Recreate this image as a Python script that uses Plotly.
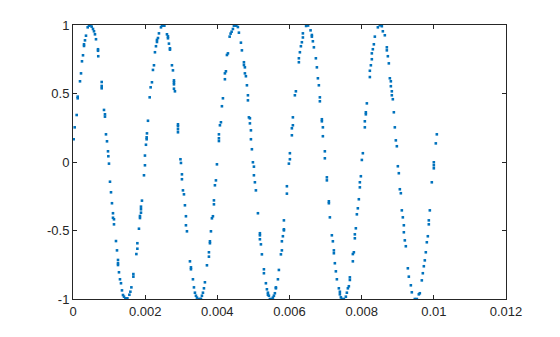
import plotly.graph_objects as go

# sample times in microseconds
t_us = [19, 47, 102, 130, 130, 194, 222, 249, 277, 305, 305, 332, 360, 407, 443, 482, 518, 554, 582, 609,
        637, 693, 693, 700, 795, 795, 795, 859, 886, 886, 914, 942, 970, 980, 997, 1025, 1053, 1080, 1108, 1108,
        1136, 1136, 1191, 1219, 1247, 1247, 1247, 1274, 1302, 1330, 1357, 1385, 1413, 1451, 1479, 1507, 1562, 1590, 1618, 1673,
        1673, 1756, 1784, 1784, 1828, 1856, 1856, 1884, 1884, 1884, 1911, 1967, 1994, 1994, 2022, 2041, 2041, 2050, 2078, 2125,
        2152, 2188, 2216, 2244, 2271, 2299, 2327, 2327, 2355, 2382, 2438, 2465, 2504, 2532, 2604, 2632, 2632, 2659, 2687, 2687,
        2742, 2770, 2798, 2798, 2798, 2798, 2825, 2909, 2909, 2909, 2909, 2978, 2992, 3019, 3019, 3047, 3075, 3102, 3130, 3130,
        3158, 3241, 3269, 3269, 3324, 3352, 3379, 3407, 3435, 3490, 3546, 3573, 3601, 3629, 3656, 3712, 3767, 3767, 3795, 3795,
        3823, 3850, 3878, 3906, 3906, 3933, 3961, 3989, 4044, 4044, 4044, 4072, 4100, 4127, 4155, 4210, 4210, 4238, 4266, 4294,
        4341, 4368, 4396, 4432, 4460, 4487, 4526, 4570, 4598, 4654, 4681, 4737, 4737, 4764, 4764, 4792, 4820, 4848, 4848, 4875,
        4903, 4903, 4931, 4931, 4958, 4986, 5014, 5014, 5041, 5069, 5125, 5180, 5180, 5180, 5208, 5235, 5291, 5291, 5346, 5374,
        5402, 5402, 5429, 5457, 5512, 5540, 5568, 5595, 5623, 5623, 5679, 5706, 5762, 5789, 5789, 5817, 5845, 5845, 5845, 5928,
        5928, 5983, 6011, 6011, 6066, 6066, 6094, 6094, 6149, 6177, 6260, 6260, 6288, 6316, 6343, 6371, 6371, 6460, 6515, 6584,
        6620, 6620, 6648, 6676, 6731, 6759, 6787, 6814, 6842, 6842, 6897, 6897, 6925, 6925, 6980, 6980, 7036, 7036, 7091, 7091,
        7119, 7174, 7202, 7230, 7230, 7257, 7285, 7313, 7368, 7396, 7396, 7424, 7451, 7507, 7562, 7590, 7618, 7645, 7673, 7673,
        7756, 7756, 7784, 7811, 7811, 7839, 7867, 7894, 7922, 7950, 7950, 7978, 8005, 8033, 8088, 8088, 8116, 8116, 8144, 8227,
        8227, 8255, 8282, 8282, 8310, 8338, 8365, 8449, 8504, 8559, 8587, 8642, 8698, 8698, 8726, 8753, 8781, 8809, 8809, 8836,
        8836, 8864, 8892, 8919, 8947, 8975, 9003, 9030, 9058, 9086, 9113, 9141, 9169, 9169, 9196, 9224, 9280, 9307, 9363, 9390,
        9473, 9529, 9584, 9612, 9667, 9695, 9723, 9750, 9778, 9806, 9834, 9861, 9861, 9889, 9944, 10000, 10000, 10000, 10055, 10083]

values = [0.166, 0.253, 0.343, 0.465, 0.477, 0.589, 0.647, 0.735, 0.779, 0.847, 0.859, 0.888, 0.922, 0.983, 0.995, 0.998, 0.988, 0.971, 0.954, 0.932,
          0.896, 0.823, 0.812, 0.772, 0.584, 0.555, 0.538, 0.380, 0.348, 0.331, 0.202, 0.151, 0.078, 0.042, -0.012, -0.144, -0.221, -0.301, -0.374, -0.407,
          -0.418, -0.455, -0.577, -0.645, -0.715, -0.739, -0.752, -0.805, -0.856, -0.885, -0.937, -0.971, -0.983, -0.995, -1.0, -0.995, -0.969, -0.947, -0.915, -0.837,
          -0.818, -0.672, -0.633, -0.593, -0.487, -0.409, -0.394, -0.370, -0.345, -0.326, -0.282, -0.097, -0.024, 0.047, 0.126, 0.166, 0.180, 0.209, 0.301, 0.472,
          0.545, 0.582, 0.672, 0.706, 0.801, 0.845, 0.876, 0.891, 0.905, 0.939, 0.983, 0.995, 0.998, 0.995, 0.932, 0.917, 0.903, 0.864, 0.830, 0.820,
          0.706, 0.669, 0.596, 0.582, 0.567, 0.535, 0.516, 0.275, 0.261, 0.239, 0.217, 0.020, -0.007, -0.090, -0.126, -0.207, -0.236, -0.316, -0.396, -0.462,
          -0.506, -0.725, -0.769, -0.783, -0.856, -0.915, -0.954, -0.976, -0.990, -1.0, -0.998, -0.976, -0.954, -0.922, -0.878, -0.754, -0.691, -0.659, -0.593, -0.579,
          -0.506, -0.411, -0.396, -0.309, -0.280, -0.170, -0.134, -0.017, 0.153, 0.173, 0.202, 0.268, 0.290, 0.407, 0.465, 0.604, 0.647, 0.662, 0.781, 0.793,
          0.915, 0.937, 0.951, 0.971, 0.995, 0.995, 0.995, 0.985, 0.944, 0.871, 0.815, 0.728, 0.708, 0.691, 0.647, 0.626, 0.560, 0.487, 0.450, 0.326,
          0.319, 0.282, 0.231, 0.166, 0.093, -0.002, -0.034, -0.097, -0.148, -0.207, -0.374, -0.520, -0.535, -0.564, -0.601, -0.674, -0.783, -0.812, -0.885, -0.929,
          -0.954, -0.969, -0.976, -1.0, -1.0, -0.990, -0.976, -0.958, -0.915, -0.922, -0.856, -0.788, -0.674, -0.645, -0.579, -0.542, -0.499, -0.491, -0.426, -0.231,
          -0.177, -0.012, 0.020, 0.064, 0.195, 0.246, 0.268, 0.326, 0.487, 0.516, 0.728, 0.757, 0.801, 0.845, 0.874, 0.909, 0.939, 0.993, 0.996, 0.961,
          0.927, 0.915, 0.881, 0.837, 0.757, 0.691, 0.611, 0.560, 0.472, 0.443, 0.312, 0.297, 0.253, 0.188, 0.078, 0.027, -0.112, -0.134, -0.287, -0.301,
          -0.404, -0.535, -0.579, -0.645, -0.666, -0.739, -0.798, -0.856, -0.922, -0.947, -0.966, -0.988, -1.0, -1.0, -0.983, -0.954, -0.922, -0.907, -0.861, -0.842,
          -0.725, -0.672, -0.659, -0.557, -0.528, -0.484, -0.382, -0.338, -0.272, -0.185, -0.148, -0.104, 0.015, 0.064, 0.253, 0.297, 0.348, 0.363, 0.428, 0.620,
          0.666, 0.706, 0.750, 0.793, 0.823, 0.859, 0.915, 0.983, 0.998, 0.991, 0.954, 0.925, 0.837, 0.815, 0.772, 0.720, 0.611, 0.589, 0.553, 0.516,
          0.487, 0.458, 0.363, 0.253, 0.158, 0.115, -0.031, -0.082, -0.199, -0.228, -0.353, -0.404, -0.462, -0.513, -0.572, -0.615, -0.776, -0.837, -0.900, -0.951,
          -1.0, -1.0, -0.966, -0.958, -0.864, -0.812, -0.761, -0.718, -0.659, -0.586, -0.542, -0.455, -0.426, -0.353, -0.148, -0.002, -0.024, -0.046, 0.136, 0.202]

x_ticks = [0, 0.002, 0.004, 0.006, 0.008, 0.01, 0.012]
x_labels = ["0", "0.002", "0.004", "0.006", "0.008", "0.01", "0.012"]
y_ticks = [-1, -0.5, 0, 0.5, 1]
y_labels = ["-1", "-0.5", "0", "0.5", "1"]

t = [v * 1e-6 for v in t_us]

fig = go.Figure()
fig.add_trace(go.Scatter(x=t, y=values, mode="markers",
                         marker=dict(symbol="square", size=2.6, color="#0072BD", line=dict(width=0)),
                         showlegend=False))

axis_common = dict(showline=True, linecolor="#262626", linewidth=1, mirror="ticks",
                   ticks="inside", ticklen=4, tickcolor="#262626", showgrid=False, zeroline=False,
                   tickfont=dict(family="Liberation Sans, Arial, sans-serif", size=13, color="#262626"))

fig.update_layout(
    width=560, height=337,
    margin=dict(l=73, r=54, t=25, b=38),
    paper_bgcolor="white", plot_bgcolor="white",
    xaxis=dict(range=[0, 0.012], tickvals=x_ticks, ticktext=x_labels, **axis_common),
    yaxis=dict(range=[-1, 1], tickvals=y_ticks, ticktext=y_labels, **axis_common),
)

fig.write_html("out.html")
